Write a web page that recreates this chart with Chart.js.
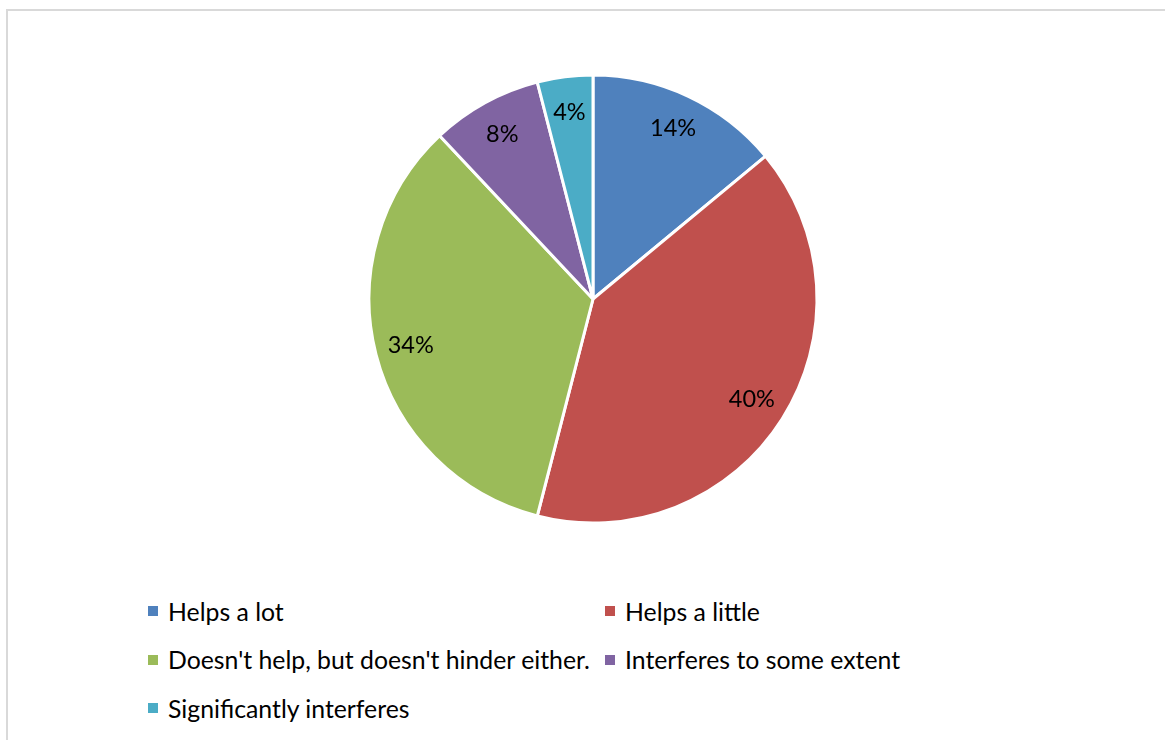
<!DOCTYPE html>
<html>
<head>
<meta charset="utf-8">
<script src="https://cdn.jsdelivr.net/npm/chart.js@4/dist/chart.umd.min.js"></script>
<style>
  html, body { margin: 0; padding: 0; background: #fff; }
  #frame {
    position: absolute; left: 6px; top: 9px; width: 1200px; height: 800px;
    border-left: 2px solid #d9d9d9; border-top: 2px solid #d9d9d9;
  }
  #pie { position: absolute; left: 363px; top: 69px; }
  #legend {
    position: absolute; left: 148px; top: 587px; width: 900px;
    display: grid; grid-template-columns: 457px 400px; row-gap: 0;
    font-family: Lato, "Noto Sans", sans-serif; font-size: 24.8px; color: #000;
  }
  .item { height: 48.5px; display: flex; align-items: center; white-space: nowrap; }
  .box { width: 10px; height: 10px; margin-right: 10px; flex: none; }
</style>
</head>
<body>
<div id="frame"></div>
<canvas id="pie" width="460" height="460"></canvas>
<div id="legend"></div>
<script>
var categories = ['Helps a lot', 'Helps a little', "Doesn't help, but doesn't hinder either.", 'Interferes to some extent', 'Significantly interferes'];
var shares = [14, 40, 34, 8, 4];
var colors = ['#4F81BD', '#C0504D', '#9BBB59', '#8064A2', '#4BACC6'];

// percent labels inside each slice, a bit in from the rim
var sliceLabels = {
    id: 'sliceLabels',
    afterDatasetsDraw: function(chart) {
        var ctx = chart.ctx;
        var meta = chart.getDatasetMeta(0);
        ctx.save();
        ctx.font = '23.5px Lato, "Noto Sans", sans-serif';
        ctx.fillStyle = '#000';
        ctx.textAlign = 'center';
        ctx.textBaseline = 'middle';
        meta.data.forEach(function(arc, i) {
            var p = arc.getProps(['x', 'y', 'startAngle', 'endAngle', 'outerRadius']);
            var mid = (p.startAngle + p.endAngle) / 2;
            var r = p.outerRadius * 0.84;
            ctx.fillText(shares[i] + '%', p.x + Math.cos(mid) * r, p.y + Math.sin(mid) * r);
        });
        ctx.restore();
    }
};

var chart = new Chart(document.getElementById('pie').getContext('2d'), {
    type: 'pie',
    data: {
        labels: categories,
        datasets: [{
            data: shares,
            backgroundColor: colors,
            borderColor: '#ffffff',
            borderWidth: 3
        }]
    },
    options: {
        responsive: false,
        animation: false,
        radius: 224,
        layout: { padding: 0 },
        plugins: {
            legend: { display: false },
            tooltip: { enabled: false }
        }
    },
    plugins: [sliceLabels]
});

// html legend, two columns like the original
var legend = document.getElementById('legend');
chart.data.labels.forEach(function(label, i) {
    var item = document.createElement('div');
    item.className = 'item';
    var box = document.createElement('span');
    box.className = 'box';
    box.style.background = chart.data.datasets[0].backgroundColor[i];
    item.appendChild(box);
    item.appendChild(document.createTextNode(label));
    legend.appendChild(item);
});
</script>
</body>
</html>
